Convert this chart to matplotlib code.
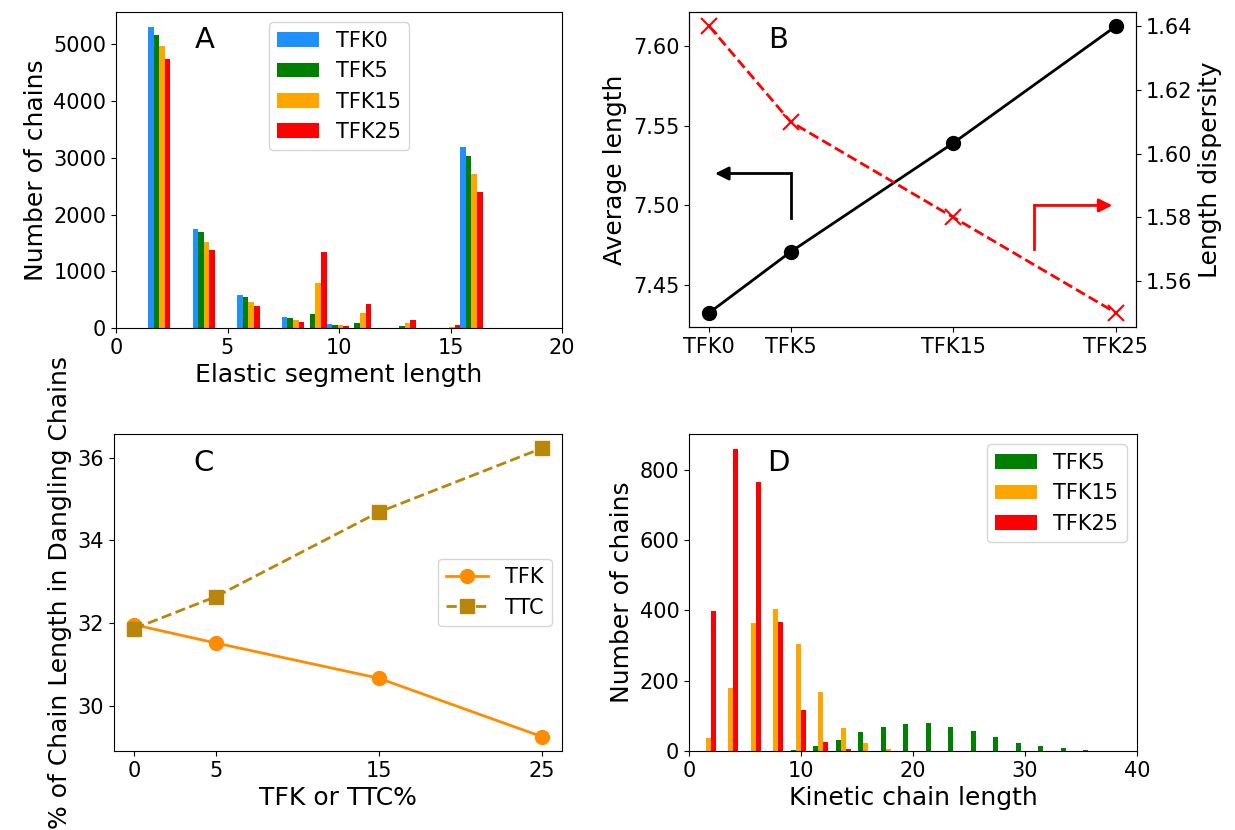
import numpy as np
import matplotlib
matplotlib.use("Agg")
import matplotlib.pyplot as plt

plt.rcParams.update({'font.size': 15})

# panel A: elastic segment length histogram
seg_centers = [1.94, 3.94, 5.94, 7.94, 8.94, 9.94, 10.94, 11.94, 12.94, 14.94, 15.94]
seg_tfk0 = [5307, 1752, 575, 193, 0, 62, 0, 8, 0, 0, 3193]
seg_tfk5 = [5173, 1700, 539, 170, 255, 58, 80, 8, 28, 0, 3035]
seg_tfk15 = [4980, 1524, 463, 140, 795, 46, 258, 0, 85, 25, 2713]
seg_tfk25 = [4745, 1383, 393, 110, 1340, 32, 430, 0, 145, 52, 2390]

# panel B
samples = ["TFK0", "TFK5", "TFK15", "TFK25"]
tfk_pct = [0, 5, 15, 25]
avg_len = [7.433, 7.471, 7.539, 7.612]
dispersity = [1.640, 1.610, 1.580, 1.550]

# panel C
dangling_tfk = [31.96, 31.52, 30.67, 29.26]
dangling_ttc = [31.87, 32.64, 34.68, 36.22]

# panel D: kinetic chain length histogram
kin_centers = [1.72, 3.73, 5.74, 7.75, 9.76, 11.77, 13.78, 15.79, 17.80, 19.81,
               21.82, 23.83, 25.84, 27.85, 29.86, 31.87, 33.88, 35.89]
kin_tfk5 = [0, 0, 0, 0, 4, 15, 30, 54, 68, 78, 81, 69, 57, 39, 22, 14, 8, 3]
kin_tfk15 = [38, 179, 365, 403, 305, 169, 66, 22, 6, 0, 0, 0, 0, 0, 0, 0, 0, 0]
kin_tfk25 = [399, 859, 764, 366, 118, 26, 5, 0, 0, 0, 0, 0, 0, 0, 0, 0, 0, 0]

fig = plt.figure(figsize=(12.35, 8.3), dpi=100)
W, H = 1235, 830
axA = fig.add_axes([116 / W, (H - 328) / H, 446 / W, 316 / H])
axB = fig.add_axes([689 / W, (H - 327) / H, 447 / W, 315 / H])
axC = fig.add_axes([114 / W, (H - 751) / H, 448 / W, 317 / H])
axD = fig.add_axes([689 / W, (H - 751) / H, 448 / W, 317 / H])

# A
bw = 0.25
xs = np.array(seg_centers)
for i, (vals, col, lab) in enumerate(zip([seg_tfk0, seg_tfk5, seg_tfk15, seg_tfk25],
                                         ["dodgerblue", "green", "orange", "red"],
                                         ["TFK0", "TFK5", "TFK15", "TFK25"])):
    axA.bar(xs + (i - 1.5) * bw, vals, width=bw, color=col, label=lab)
axA.set_xlim(0, 20)
axA.set_xticks([0, 5, 10, 15, 20])
axA.set_xlabel("Elastic segment length", fontsize=18)
axA.set_ylabel("Number of chains", fontsize=18)
axA.legend(loc="upper center")
axA.text(0.2, 0.91, "A", transform=axA.transAxes, fontsize=21, ha="center", va="center")

# B
axB.plot(tfk_pct, avg_len, "k-o", lw=2, ms=10)
axB.set_xticks(tfk_pct)
axB.set_xticklabels(samples)
axB.set_ylabel("Average length", fontsize=18)
axB.set_yticks([7.45, 7.50, 7.55, 7.60])
axB2 = axB.twinx()
axB2.plot(tfk_pct, dispersity, "r--x", lw=2, ms=11, mew=1.5)
axB2.set_ylabel("Length dispersity", fontsize=18)
axB2.set_yticks([1.56, 1.58, 1.60, 1.62, 1.64])
axB.plot([5, 5], [7.492, 7.520], color="k", lw=2)
axB.annotate("", xy=(0.35, 7.520), xytext=(5, 7.520),
             arrowprops=dict(arrowstyle="-|>", color="k", lw=2, mutation_scale=20,
                             shrinkA=0, shrinkB=0))
axB2.plot([20, 20], [1.5699, 1.5837], color="r", lw=2)
axB2.annotate("", xy=(24.8, 1.5837), xytext=(20, 1.5837),
              arrowprops=dict(arrowstyle="-|>", color="r", lw=2, mutation_scale=20,
                              shrinkA=0, shrinkB=0))
axB.text(0.2, 0.91, "B", transform=axB.transAxes, fontsize=21, ha="center", va="center")

# C
axC.plot(tfk_pct, dangling_tfk, "-o", color="darkorange", lw=2, ms=10, label="TFK")
axC.plot(tfk_pct, dangling_ttc, "--s", color="darkgoldenrod", lw=2, ms=10, label="TTC")
axC.set_xticks(tfk_pct)
axC.set_yticks([30, 32, 34, 36])
axC.set_xlabel("TFK or TTC%", fontsize=18)
axC.set_ylabel("% of Chain Length in Dangling Chains", fontsize=18)
axC.legend(loc="center right")
axC.text(0.2, 0.91, "C", transform=axC.transAxes, fontsize=21, ha="center", va="center")

# D
kw = 0.45
kx = np.array(kin_centers)
for i, (vals, col, lab) in enumerate(zip([kin_tfk5, kin_tfk15, kin_tfk25],
                                         ["green", "orange", "red"],
                                         ["TFK5", "TFK15", "TFK25"])):
    axD.bar(kx + (i - 1) * kw, vals, width=kw, color=col, label=lab)
axD.set_xlim(0, 40)
axD.set_yticks([0, 200, 400, 600, 800])
axD.set_xlabel("Kinetic chain length", fontsize=18)
axD.set_ylabel("Number of chains", fontsize=18)
axD.legend(loc="upper right")
axD.text(0.2, 0.91, "D", transform=axD.transAxes, fontsize=21, ha="center", va="center")

fig.savefig("out.png", dpi=100)
